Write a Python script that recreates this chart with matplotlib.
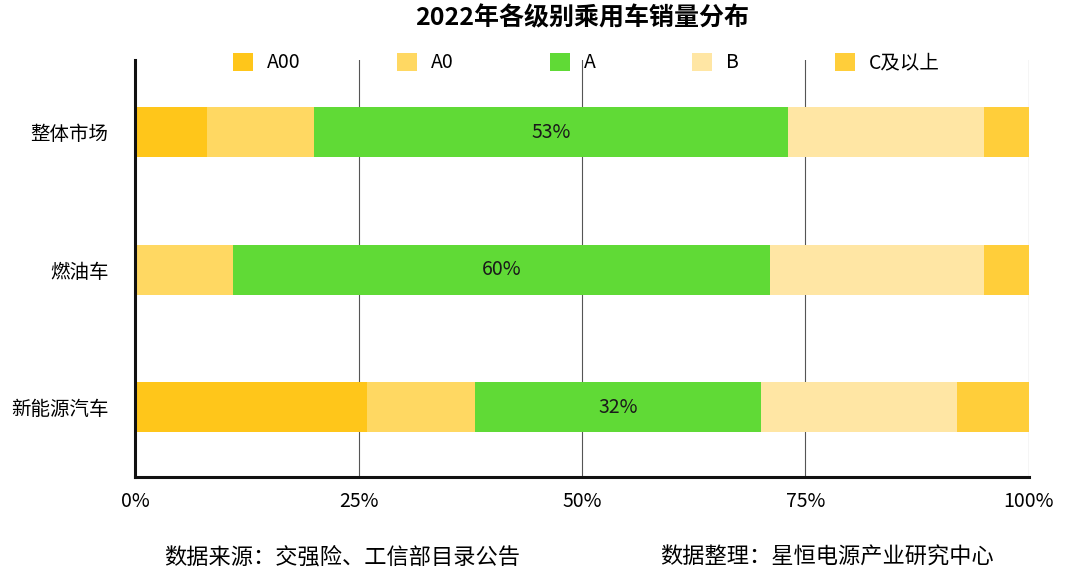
import matplotlib
matplotlib.use('Agg')
import matplotlib.pyplot as plt
import numpy as np

plt.rcParams['font.family'] = ['Noto Sans CJK SC', 'DejaVu Sans']

categories = ['整体市场', '燃油车', '新能源汽车']
segments = ['A00', 'A0', 'A', 'B', 'C及以上']
share_a00 = [8, 0, 26]
share_a0 = [12, 11, 12]
share_a = [53, 60, 32]
share_b = [22, 24, 22]
share_c = [5, 5, 8]
colors = ['#FFC61A', '#FFD862', '#60DA36', '#FFE6A4', '#FFCE3A']
xticks = [0, 25, 50, 75, 100]

fig = plt.figure(figsize=(10.82, 5.82), dpi=100)
ax = fig.add_axes([0.1248, 0.180, 0.8262, 0.717])

y = np.arange(len(categories))
left = np.zeros(len(categories))
series = [share_a00, share_a0, share_a, share_b, share_c]
for name, vals, col in zip(segments, series, colors):
    vals = np.array(vals, dtype=float)
    bars = ax.barh(y, vals, left=left, height=0.365, color=col, label=name, zorder=3)
    if name == 'A':
        ax.bar_label(bars, labels=[f'{v:.0f}%' for v in vals], label_type='center',
                     fontsize=14, color='#1a1a1a')
    left += vals

ax.set_xlim(0, 100)
ax.set_ylim(2.51, -0.526)
ax.set_yticks(y)
ax.set_yticklabels(categories, fontsize=14)
ax.set_xticks(xticks)
ax.set_xticklabels([f'{t}%' for t in xticks], fontsize=14)
ax.tick_params(axis='y', length=0, pad=19)
ax.tick_params(axis='x', length=0, pad=10)
ax.grid(axis='x', color='#555555', linewidth=0.8, zorder=0)

for side in ['top', 'right']:
    ax.spines[side].set_visible(False)
for side in ['left', 'bottom']:
    ax.spines[side].set_linewidth(2.2)
    ax.spines[side].set_color('#111111')
    ax.spines[side].set_zorder(4)

leg = ax.legend(loc='center', bbox_to_anchor=(0.505, 0.993), ncol=5, frameon=False,
                fontsize=14, handlelength=1.03, handleheight=1.03, columnspacing=4.94,
                handletextpad=0.72, borderaxespad=0, borderpad=0)

fig.suptitle('2022年各级别乘用车销量分布', x=0.538, y=0.99, fontsize=18, fontweight='bold')
fig.text(0.152, 0.042, '数据来源：交强险、工信部目录公告', fontsize=16, va='center')
fig.text(0.610, 0.042, '数据整理：星恒电源产业研究中心', fontsize=16, va='center')

fig.savefig('out.png', dpi=100)
